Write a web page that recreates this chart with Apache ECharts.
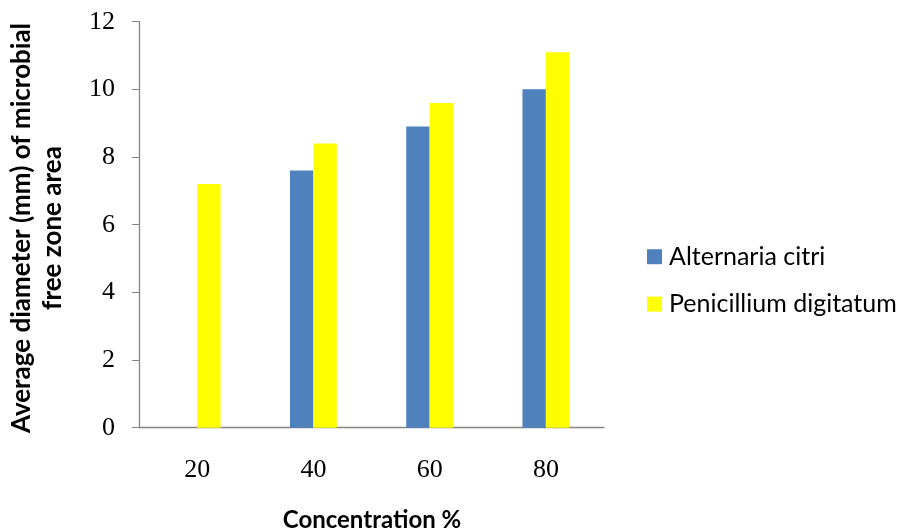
<!DOCTYPE html>
<html>
<head>
<meta charset="utf-8">
<script src="https://cdn.jsdelivr.net/npm/echarts@6/dist/echarts.min.js"></script>
<style>html,body{margin:0;padding:0;background:#fff}#c{width:897px;height:531px}</style>
</head>
<body>
<div id="c"></div>
<script>
const categories = ['20', '40', '60', '80'];
const alternaria = [null, 7.6, 8.9, 10.0];
const penicillium = [7.2, 8.4, 9.6, 11.1];
const seriesNames = ['Alternaria citri', 'Penicillium digitatum'];
const yTitleLines = ['Average diameter (mm) of microbial', 'free zone area'];
const xTitle = 'Concentration %';

const chart = echarts.init(document.getElementById('c'), null, {renderer: 'canvas'});
chart.setOption({
  animation: false,
  backgroundColor: '#fff',
  grid: {left: 139, right: 293, top: 21.7, bottom: 103.3, containLabel: false},
  legend: {
    orient: 'vertical', left: 647, top: 244.2, padding: 0,
    itemWidth: 15, itemHeight: 15, itemGap: 22.4,
    icon: 'rect',
    textStyle: {fontFamily: 'Lato', fontSize: 25, color: '#000', lineHeight: 25, padding: [0,0,0,2]},
    data: seriesNames
  },
  xAxis: {
    type: 'category', data: categories,
    axisLine: {lineStyle: {color: '#868686', width: 1.3}},
    axisTick: {show: false},
    axisLabel: {fontFamily: 'Liberation Serif', fontSize: 26, color: '#000', margin: 29},
    splitLine: {show: false}
  },
  yAxis: {
    type: 'value', min: 0, max: 12, interval: 2,
    axisLine: {show: true, lineStyle: {color: '#868686', width: 1.3}},
    axisTick: {show: true, length: 7, lineStyle: {color: '#868686'}},
    axisLabel: {fontFamily: 'Liberation Serif', fontSize: 26, color: '#000', margin: 24},
    splitLine: {show: false}
  },
  series: [
    {name: seriesNames[0], type: 'bar', data: alternaria, barWidth: 23.4, barGap: '0%', itemStyle: {color: '#4F81BD'}},
    {name: seriesNames[1], type: 'bar', data: penicillium, barWidth: 23.4, barGap: '0%', itemStyle: {color: '#FFFF00'}}
  ],
  graphic: [
    {type: 'text', x: 37.3, y: 228, rotation: Math.PI / 2,
     style: {text: yTitleLines.join('\n'), font: 'bold 26px Lato', fill: '#000', align: 'center', verticalAlign: 'middle', lineHeight: 31.3}},
    {type: 'text', x: 372, y: 520,
     style: {text: xTitle, font: 'bold 24px Lato', fill: '#000', align: 'center', verticalAlign: 'middle'}}
  ]
});
</script>
</body>
</html>
